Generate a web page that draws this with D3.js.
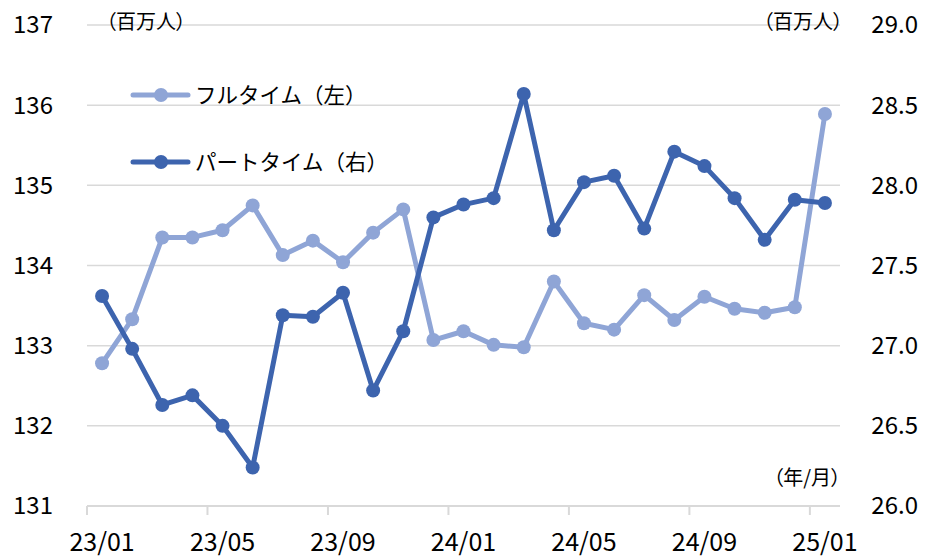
<!DOCTYPE html>
<html>
<head>
<meta charset="utf-8">
<script src="https://cdn.jsdelivr.net/npm/d3@7/dist/d3.min.js"></script>
<style>
  html, body { margin: 0; padding: 0; background: #fff; }
  svg { display: block; font-family: "Noto Sans CJK JP", "Noto Sans", sans-serif; }
  .unit { font-feature-settings: "palt"; }
</style>
</head>
<body>
<svg id="chart" width="934" height="558"></svg>
<script>
// Monthly categories, Jan 2023 – Jan 2025
const months = [
  "23/01","23/02","23/03","23/04","23/05","23/06","23/07","23/08","23/09","23/10","23/11","23/12",
  "24/01","24/02","24/03","24/04","24/05","24/06","24/07","24/08","24/09","24/10","24/11","24/12",
  "25/01"
];
// Full-time workers (millions, left axis)
const fullTime = [
  132.78, 133.33, 134.35, 134.35, 134.44, 134.75, 134.13, 134.31, 134.04, 134.41, 134.70, 133.07,
  133.18, 133.01, 132.98, 133.80, 133.28, 133.20, 133.63, 133.32, 133.61, 133.46, 133.41, 133.48,
  135.89
];
// Part-time workers (millions, right axis)
const partTime = [
  27.31, 26.98, 26.63, 26.69, 26.50, 26.24, 27.19, 27.18, 27.33, 26.72, 27.09, 27.80,
  27.88, 27.92, 28.57, 27.72, 28.02, 28.06, 27.73, 28.21, 28.12, 27.92, 27.66, 27.91,
  27.89
];
const leftTicks = [131, 132, 133, 134, 135, 136, 137];
const rightTicks = [26.0, 26.5, 27.0, 27.5, 28.0, 28.5, 29.0];
const xTickLabels = ["23/01","23/05","23/09","24/01","24/05","24/09","25/01"];
const seriesNames = ["フルタイム（左）", "パートタイム（右）"];

const colFull = "#8FA5D6";
const colPart = "#3D64AE";
const gridCol = "#D9D9D9";

const svg = d3.select("#chart");
const plotLeft = 87, plotRight = 840, plotTop = 25, plotBottom = 506;

const x = d3.scaleBand().domain(months).range([plotLeft, plotRight]).paddingInner(0).paddingOuter(0);
const cx = d => x(d) + x.bandwidth() / 2;
const yL = d3.scaleLinear().domain([131, 137]).range([plotBottom, plotTop]);
const yR = d3.scaleLinear().domain([26, 29]).range([plotBottom, plotTop]);

// Horizontal gridlines
svg.append("g")
  .selectAll("line")
  .data(leftTicks.filter(t => t !== 131))
  .join("line")
  .attr("x1", plotLeft).attr("x2", plotRight)
  .attr("y1", d => yL(d)).attr("y2", d => yL(d))
  .attr("stroke", gridCol).attr("stroke-width", 1.5);

// Left axis labels
svg.append("g")
  .selectAll("text")
  .data(leftTicks)
  .join("text")
  .attr("x", 53).attr("y", d => yL(d))
  .attr("dy", "0.35em")
  .attr("text-anchor", "end")
  .attr("font-size", 24)
  .attr("fill", "#000")
  .text(d => d);

// Right axis labels
svg.append("g")
  .selectAll("text")
  .data(rightTicks)
  .join("text")
  .attr("x", 918).attr("y", d => yR(d))
  .attr("dy", "0.35em")
  .attr("text-anchor", "end")
  .attr("font-size", 24)
  .attr("fill", "#000")
  .text(d => d3.format(".1f")(d));

// Category axis: line, ticks at every fourth band edge, labels at band centres
const xAxis = svg.append("g");
xAxis.append("line")
  .attr("x1", plotLeft).attr("x2", plotRight)
  .attr("y1", plotBottom).attr("y2", plotBottom)
  .attr("stroke", gridCol).attr("stroke-width", 2);
xAxis.selectAll("line.tick")
  .data(xTickLabels)
  .join("line")
  .attr("class", "tick")
  .attr("x1", d => x(d)).attr("x2", d => x(d))
  .attr("y1", plotBottom).attr("y2", plotBottom + 9)
  .attr("stroke", gridCol).attr("stroke-width", 2);
xAxis.selectAll("text")
  .data(xTickLabels)
  .join("text")
  .attr("x", d => cx(d)).attr("y", 551)
  .attr("text-anchor", "middle")
  .attr("font-size", 25)
  .attr("fill", "#000")
  .text(d => d);

// Unit labels
const unit = (tx, ty, s, anchor) => svg.append("text")
  .attr("class", "unit")
  .attr("x", tx).attr("y", ty).attr("dy", "0.35em")
  .attr("text-anchor", anchor)
  .attr("font-size", 20).attr("fill", "#000")
  .text(s);
unit(106, 22, "（百万人）", "start");
unit(843, 22, "（百万人）", "end");
unit(841, 478, "（年/月）", "end");

// Series
function drawSeries(values, scale, color) {
  const line = d3.line().x((d, i) => cx(months[i])).y(d => scale(d));
  const g = svg.append("g");
  g.append("path")
    .datum(values)
    .attr("d", line)
    .attr("fill", "none")
    .attr("stroke", color)
    .attr("stroke-width", 5)
    .attr("stroke-linejoin", "round");
  g.selectAll("circle")
    .data(values)
    .join("circle")
    .attr("cx", (d, i) => cx(months[i]))
    .attr("cy", d => scale(d))
    .attr("r", 7)
    .attr("fill", color);
}
drawSeries(fullTime, yL, colFull);
drawSeries(partTime, yR, colPart);

// Legend
const legend = svg.append("g");
[[colFull, 95], [colPart, 162]].forEach(([c, ly], i) => {
  legend.append("line")
    .attr("x1", 133).attr("x2", 188)
    .attr("y1", ly).attr("y2", ly)
    .attr("stroke", c).attr("stroke-width", 5).attr("stroke-linecap", "round");
  legend.append("circle").attr("cx", 161).attr("cy", ly).attr("r", 7).attr("fill", c);
  legend.append("text")
    .attr("x", 195).attr("y", ly).attr("dy", "0.35em")
    .attr("font-size", 21.5).attr("fill", "#000")
    .text(seriesNames[i]);
});
</script>
</body>
</html>
